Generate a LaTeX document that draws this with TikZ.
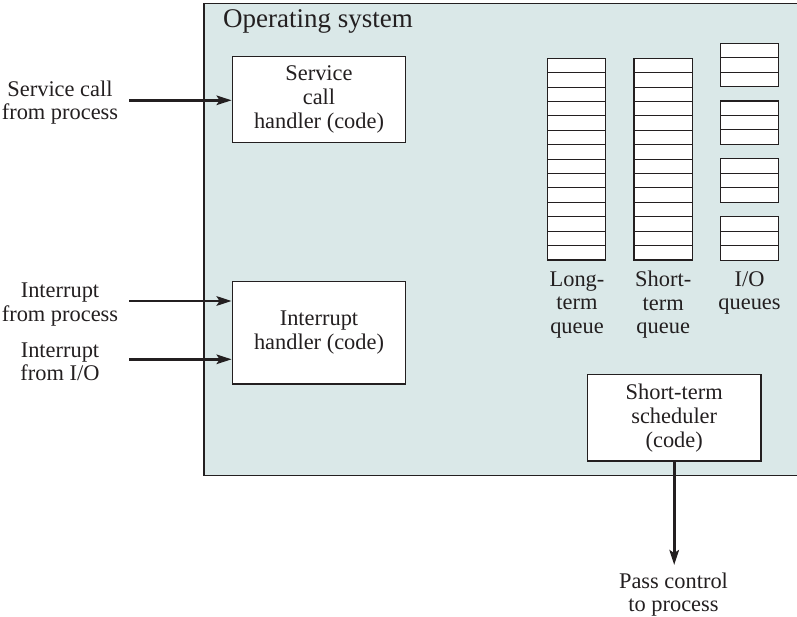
\documentclass[tikz,border=0pt]{standalone}
\usepackage{fontspec}
\setmainfont{Liberation Serif}
\usetikzlibrary{arrows.meta}
\definecolor{osfill}{RGB}{218,232,232}
\definecolor{ink}{RGB}{35,31,32}
\begin{document}
\begin{tikzpicture}[x=1pt,y=-1pt,
  txt/.style={font=\fontsize{22.4}{23.5}\selectfont, text=ink, align=center, inner sep=0pt},
  codebox/.style={draw=ink, line width=1.3pt, fill=white, minimum width=173.5pt, align=center, inner sep=0pt, font=\fontsize{22.4}{24}\selectfont, text=ink},
  qbox/.style={draw=ink, line width=1.1pt, fill=white},
  qline/.style={draw=ink, line width=1pt},
  flow/.style={draw=ink, line width=2.6pt, -{Stealth[length=15pt,width=9.5pt,inset=3pt]}}]
\useasboundingbox (0,0) rectangle (797,617);
% operating system area
\draw[draw=ink, line width=1.5pt, fill=osfill] (204,3.5) rectangle (800,475.7);
\node[anchor=base west, font=\fontsize{27}{30}\selectfont, text=ink, inner sep=0pt] (title) at (223,28) {Operating system};
% code boxes
\node[codebox, minimum height=86pt] (svc) at (319,99.7) {Service\\call\\handler (code)};
\node[codebox, minimum height=102.3pt] (ih) at (319,332.8) {Interrupt\\handler (code)};
\node[codebox, minimum height=86.3pt] (sched) at (674.2,417.9) {Short-term\\scheduler\\(code)};
% long-term queue
\draw[qbox] (547.3,58.3) rectangle (605.7,260);
\foreach \i in {1,...,13} \draw[qline] (547.3,{58.3+\i*201.7/14}) -- (605.7,{58.3+\i*201.7/14});
% short-term queue
\draw[qbox] (634,58.3) rectangle (692.3,260);
\foreach \i in {1,...,13} \draw[qline] (634,{58.3+\i*201.7/14}) -- (692.3,{58.3+\i*201.7/14});
% I/O queues
\foreach \t in {43.3,101,158.7,216.7} {
  \draw[qbox] (720.3,\t) rectangle (778.7,\t+43.4);
  \draw[qline] (720.3,\t+14.47) -- (778.7,\t+14.47);
  \draw[qline] (720.3,\t+28.93) -- (778.7,\t+28.93);
}
% queue labels
\node[txt] (lq) at (577,305) {Long-\\term\\queue};
\node[txt] (sq) at (663.2,305) {Short-\\term\\queue};
\node[txt] (ioq) at (749.5,293) {I/O\\queues};
% external labels
\node[txt] (lsvc) at (60,102.5) {Service call\\from process};
\node[txt] (lip) at (60,304.5) {Interrupt\\from process};
\node[txt] (lio) at (60,362) {Interrupt\\from I/O};
\node[txt] (lpass) at (673.5,594.5) {Pass control\\to process};
% connectors
\coordinate (s0) at (129,100.3);
\coordinate (p0) at (129,301);
\coordinate (q0) at (129,359.3);
\coordinate (e0) at (674.2,565);
\draw[flow] (s0) -- (s0 -| svc.west);
\draw[flow] (p0) -- (p0 -| ih.west);
\draw[flow] (q0) -- (q0 -| ih.west);
\draw[flow] (sched.south) -- (e0);
\end{tikzpicture}
\end{document}
